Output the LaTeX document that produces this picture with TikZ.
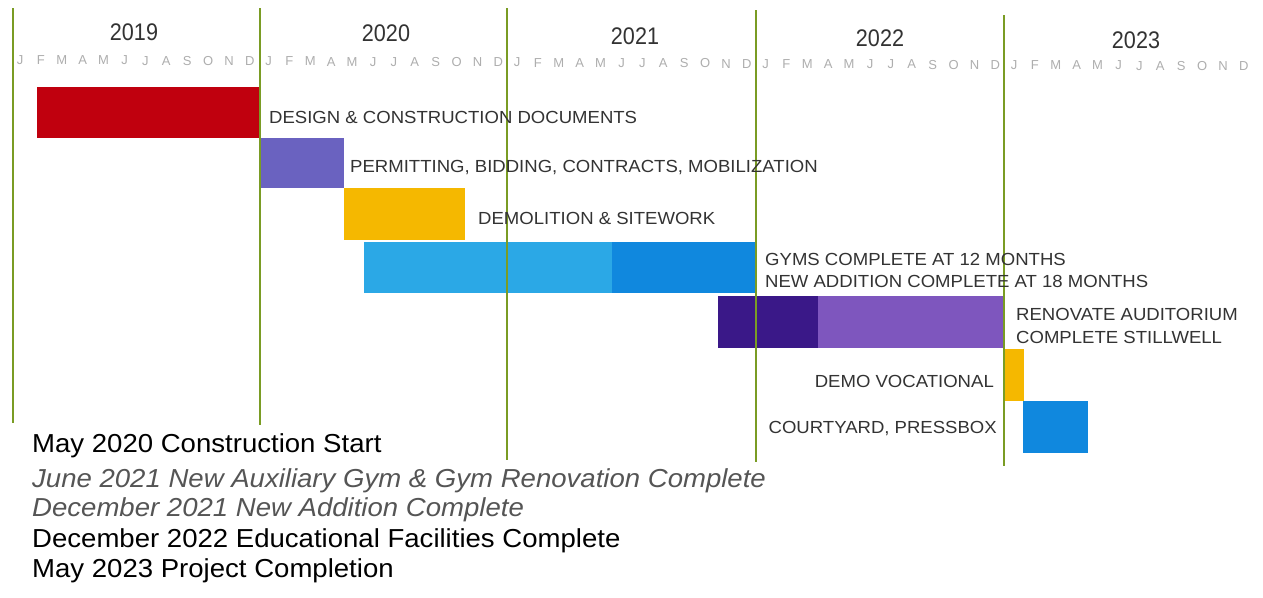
\documentclass[tikz,border=0pt]{standalone}
\usepackage{fontspec}
\setmainfont{Liberation Sans}
\newfontfamily\lblfont[FakeStretch=1.06]{Liberation Sans}
\newfontfamily\notefont[FakeStretch=1.06]{Liberation Sans}
\newfontfamily\yearfont[FakeStretch=0.9]{Liberation Sans}
\definecolor{grn}{HTML}{7A9C24}
\definecolor{txt}{HTML}{333333}
\definecolor{mon}{HTML}{AEAEAE}
\definecolor{redbar}{HTML}{C0000E}
\definecolor{permbar}{HTML}{6A62C0}
\definecolor{yelbar}{HTML}{F5B800}
\definecolor{lbluebar}{HTML}{2BA8E6}
\definecolor{dbluebar}{HTML}{1088DE}
\definecolor{dpurbar}{HTML}{3A1888}
\definecolor{lpurbar}{HTML}{7E56BE}
\definecolor{itl}{HTML}{555555}
\tikzset{
  barbox/.style={rectangle, draw=none, inner sep=0pt, outer sep=0pt, anchor=north west},
  lbl/.style={anchor=base west, inner sep=0pt, text=txt, font=\lblfont\fontsize{17.5}{21}\selectfont},
  yearlbl/.style={anchor=base, inner sep=0pt, text=txt, font=\yearfont\fontsize{24}{28}\selectfont},
  monlbl/.style={inner sep=0pt, text=mon, font=\fontsize{13}{15}\selectfont},
  divider/.style={draw=grn, line width=1.8pt},
  notebold/.style={anchor=base west, inner sep=0pt, text=black, font=\notefont\fontsize{26}{30}\selectfont},
  noteital/.style={anchor=base west, inner sep=0pt, text=itl, font=\notefont\fontsize{26}{30}\selectfont\itshape},
}
\begin{document}
\begin{tikzpicture}[x=1pt, y=-1pt]
\useasboundingbox (0,0) rectangle (1263,597);
\fill[white] (0,0) rectangle (1263,597);
% dividers
\coordinate (d1t) at (13,8);    \coordinate (d1b) at (13,423);
\coordinate (d2t) at (260,8);   \coordinate (d2b) at (260,425);
\coordinate (d3t) at (507,8);   \coordinate (d3b) at (507,460);
\coordinate (d4t) at (756,10);  \coordinate (d4b) at (756,462);
\coordinate (d5t) at (1004,15); \coordinate (d5b) at (1004,466);
% years
\node[yearlbl] (y2019) at (134,40) {2019};
\node[yearlbl] (y2020) at (386,41) {2020};
\node[yearlbl] (y2021) at (635,44) {2021};
\node[yearlbl] (y2022) at (880,46) {2022};
\node[yearlbl] (y2023) at (1136,48) {2023};
% months
\foreach \k in {0,...,4} {
  \foreach \m [count=\i from 0] in {J,F,M,A,M,J,J,A,S,O,N,D} {
    \node[monlbl] (m\k-\i) at ({20+248.5*\k+20.9*\i}, {60+0.005*(248.5*\k+20.9*\i)}) {\m};
  }
}
% bars
\node[barbox, fill=redbar, minimum width=223pt, minimum height=51pt] (design) at (37,87) {};
\node[barbox, fill=permbar, minimum width=83pt, minimum height=50pt] (permit) at (261,138) {};
\node[barbox, fill=yelbar, minimum width=121pt, minimum height=52pt] (demo) at (344,188) {};
\node[barbox, fill=lbluebar, minimum width=248pt, minimum height=51pt] (gymsa) at (364,242) {};
\node[barbox, fill=dbluebar, minimum width=144pt, minimum height=51pt] (gymsb) at (612,242) {};
\node[barbox, fill=dpurbar, minimum width=100pt, minimum height=52pt] (renoa) at (718,296) {};
\node[barbox, fill=lpurbar, minimum width=186pt, minimum height=52pt] (renob) at (818,296) {};
\node[barbox, fill=yelbar, minimum width=19pt, minimum height=52pt] (demovoc) at (1005,349) {};
\node[barbox, fill=dbluebar, minimum width=65pt, minimum height=52pt] (court) at (1023,401) {};
\draw[divider] (d1t) -- (d1b);
\draw[divider] (d2t) -- (d2b);
\draw[divider] (d3t) -- (d3b);
\draw[divider] (d4t) -- (d4b);
\draw[divider] (d5t) -- (d5b);
% labels
\node[lbl] (ldesign) at (269,123) {DESIGN \& CONSTRUCTION DOCUMENTS};
\node[lbl] (lpermit) at (350,172) {PERMITTING, BIDDING, CONTRACTS, MOBILIZATION};
\node[lbl] (ldemo) at (478,224) {DEMOLITION \& SITEWORK};
\node[lbl] (lgyms1) at (765,265) {GYMS COMPLETE AT 12 MONTHS};
\node[lbl] (lgyms2) at (765,287) {NEW ADDITION COMPLETE AT 18 MONTHS};
\node[lbl] (lreno1) at (1016,320) {RENOVATE AUDITORIUM};
\node[lbl] (lreno2) at (1016,343) {COMPLETE STILLWELL};
\node[lbl, anchor=base east] (ldemovoc) at (994,387) {DEMO VOCATIONAL};
\node[lbl, anchor=base east] (lcourt) at (997,433) {COURTYARD, PRESSBOX};
% notes
\node[notebold] (n1) at (32,452) {May 2020 Construction Start};
\node[noteital] (n2) at (32,487) {June 2021 New Auxiliary Gym \& Gym Renovation Complete};
\node[noteital] (n3) at (32,516) {December 2021 New Addition Complete};
\node[notebold] (n4) at (32,547) {December 2022 Educational Facilities Complete};
\node[notebold] (n5) at (32,577) {May 2023 Project Completion};
\end{tikzpicture}
\end{document}
